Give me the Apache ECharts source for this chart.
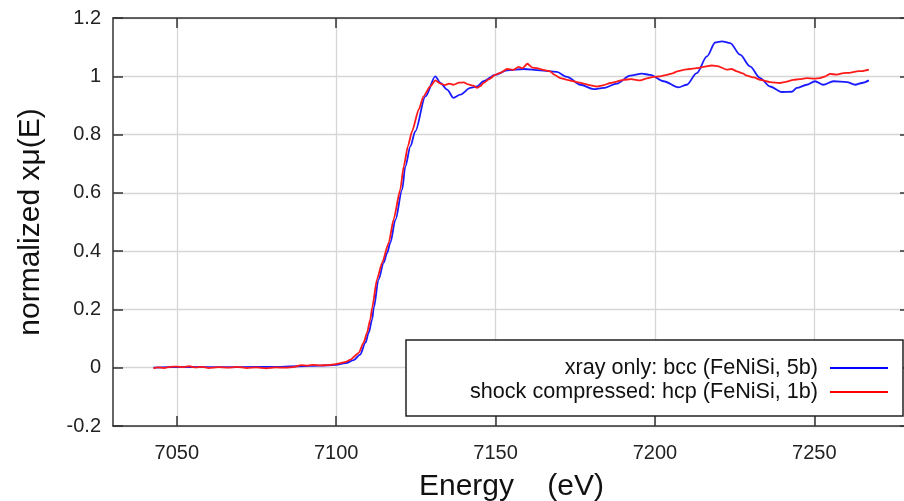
<!DOCTYPE html>
<html>
<head>
<meta charset="utf-8">
<script src="https://cdn.jsdelivr.net/npm/echarts@6/dist/echarts.min.js"></script>
<style>
html,body{margin:0;padding:0;background:#fff;}
#chart{width:904px;height:501px;}
</style>
</head>
<body>
<div id="chart"></div>
<script>
// ---- data ----
const seriesNames = ['xray only: bcc (FeNiSi, 5b)', 'shock compressed: hcp (FeNiSi, 1b)'];
const xTicks = [7050, 7100, 7150, 7200, 7250];
const yTicks = [-0.2, 0, 0.2, 0.4, 0.6, 0.8, 1, 1.2];

const bccEnergy = [7042.7, 7050, 7060, 7070, 7080, 7088, 7095, 7100, 7103, 7105.5, 7107.5,
  7109.2, 7110.2, 7111.3, 7111.8, 7113.3, 7114.9, 7116, 7117, 7118.6, 7120.7, 7121.7, 7123.3,
  7124.8, 7128, 7131.1, 7132.7, 7134.8, 7136.8, 7138.9, 7142.1, 7144.2, 7146.2, 7149.9, 7153.6,
  7158.8, 7164, 7169.2, 7172.4, 7176.6, 7180.7, 7183.9, 7188.1, 7192.2, 7195.9, 7198.5, 7202.7,
  7207.4, 7210, 7213.1, 7216.3, 7218.9, 7221, 7223.6, 7226.7, 7229.8, 7233, 7236.1, 7239.8,
  7242.9, 7244.5, 7247.6, 7250.2, 7252.8, 7256, 7260.2, 7262.8, 7264.9, 7267.1];
const bccMu = [0.000, 0.003, 0.002, 0.002, 0.003, 0.005, 0.007, 0.010, 0.016, 0.026, 0.045,
  0.086, 0.120, 0.166, 0.206, 0.303, 0.360, 0.394, 0.429, 0.508, 0.611, 0.691, 0.760,
  0.811, 0.931, 1.000, 0.977, 0.954, 0.926, 0.937, 0.960, 0.965, 0.983, 1.005, 1.020,
  1.025, 1.020, 1.015, 0.998, 0.971, 0.956, 0.960, 0.975, 1.002, 1.009, 1.005, 0.983,
  0.962, 0.971, 1.011, 1.068, 1.116, 1.120, 1.114, 1.074, 1.034, 0.994, 0.965, 0.946,
  0.947, 0.960, 0.971, 0.983, 0.971, 0.983, 0.980, 0.971, 0.977, 0.986];

const hcpEnergy = [7042.7, 7044, 7046, 7048, 7050, 7052, 7054, 7056, 7058, 7060, 7063, 7066,
  7069, 7072, 7075, 7078, 7081, 7084, 7087, 7089, 7091, 7093, 7095, 7097, 7099.2, 7101, 7103,
  7104.5, 7107.1, 7108.6, 7109.7, 7110.7, 7111.3, 7112.8, 7114.4, 7116.5, 7118, 7120.1, 7121.2,
  7122.5, 7123.8, 7125.9, 7127.4, 7129.5, 7131.1, 7132.7, 7134, 7135.5, 7136.8, 7138.5, 7140,
  7141.5, 7143, 7144.2, 7145.2, 7146.2, 7148, 7149.9, 7151.5, 7153.6, 7155.5, 7157.2, 7158.5,
  7160, 7161.5, 7163, 7165, 7167.1, 7168.5, 7170.3, 7172.5, 7174.5, 7176, 7177.6, 7179.5,
  7181.8, 7184, 7186, 7188, 7190.1, 7192.5, 7195.4, 7197.5, 7199.5, 7201.6, 7203.7, 7205.5,
  7207, 7209, 7211, 7213, 7215.2, 7217.8, 7219.9, 7222.5, 7224, 7225.7, 7227.5, 7228.8, 7231,
  7233, 7236.1, 7239.2, 7241, 7243.4, 7245.5, 7247.6, 7250, 7251.8, 7253.5, 7254.9, 7257,
  7259.1, 7261, 7263.3, 7265, 7267.1];
const hcpMu = [-0.002, 0.001, -0.001, 0.003, 0.004, 0.002, 0.005, 0.001, 0.003, -0.001, 0.002, 0.000,
  0.003, -0.001, 0.001, -0.002, 0.001, 0.000, 0.003, 0.009, 0.007, 0.010, 0.008, 0.009, 0.011, 0.015, 0.020,
  0.028, 0.051, 0.086, 0.120, 0.166, 0.206, 0.303, 0.360, 0.429, 0.508, 0.611, 0.691,
  0.760, 0.811, 0.886, 0.931, 0.965, 0.986, 0.975, 0.970, 0.975, 0.971, 0.978, 0.979,
  0.972, 0.968, 0.960, 0.966, 0.977, 0.990, 1.005, 1.012, 1.025, 1.022, 1.032, 1.028,
  1.043, 1.030, 1.028, 1.022, 1.017, 1.005, 0.994, 0.988, 0.983, 0.979, 0.975, 0.970,
  0.965, 0.970, 0.977, 0.982, 0.988, 0.990, 0.986, 0.993, 0.998, 1.000, 1.005, 1.010,
  1.017, 1.022, 1.025, 1.028, 1.032, 1.037, 1.034, 1.023, 1.025, 1.017, 1.010, 1.002, 0.996,
  0.988, 0.980, 0.977, 0.981, 0.988, 0.990, 0.994, 0.992, 0.994, 1.000, 1.008, 1.006,
  1.011, 1.012, 1.017, 1.018, 1.023];

// ---- chart ----
const FONT = "'Liberation Sans', Arial, sans-serif";
const zip = (xs, ys) => xs.map((x, i) => [x, ys[i]]);
const chart = echarts.init(document.getElementById('chart'), null, {renderer: 'canvas'});

const tickStyle = {show: true, inside: true, length: 10, lineStyle: {color: '#333', width: 1.5}};
const lineStyle = {show: true, onZero: false, lineStyle: {color: '#333', width: 1.5}};

chart.setOption({
  animation: false,
  backgroundColor: '#fff',
  textStyle: {fontFamily: FONT},
  grid: {left: 113, top: 18, width: 797, height: 408, containLabel: false, outerBoundsMode: 'none'},
  xAxis: [{
    type: 'value', min: 7030, max: 7280, position: 'bottom',
    name: 'Energy    (eV)', nameLocation: 'middle', nameGap: 46,
    nameTextStyle: {fontSize: 30, color: '#111', fontFamily: FONT},
    axisLine: lineStyle,
    axisTick: Object.assign({customValues: xTicks}, tickStyle),
    axisLabel: {customValues: xTicks, fontSize: 20, color: '#222', margin: 17, fontFamily: FONT,
      formatter: v => String(v)},
    splitLine: {show: true, lineStyle: {color: '#d6d6d6', width: 1.3}}
  }, {
    type: 'value', min: 7030, max: 7280, position: 'top',
    axisLine: lineStyle,
    axisTick: Object.assign({customValues: xTicks}, tickStyle),
    axisLabel: {show: false},
    splitLine: {show: false}
  }],
  yAxis: [{
    type: 'value', min: -0.2, max: 1.2, interval: 0.2, position: 'left',
    name: 'normalized xμ(E)', nameLocation: 'middle', nameGap: 67,
    nameTextStyle: {fontSize: 30, color: '#111', fontFamily: FONT},
    axisLine: lineStyle,
    axisTick: tickStyle,
    axisLabel: {fontSize: 20, color: '#222', margin: 12, fontFamily: FONT},
    splitLine: {show: true, lineStyle: {color: '#d6d6d6', width: 1.3}}
  }, {
    type: 'value', min: -0.2, max: 1.2, interval: 0.2, position: 'right',
    axisLine: lineStyle,
    axisTick: tickStyle,
    axisLabel: {show: false},
    splitLine: {show: false}
  }],
  legend: [0, 1].map(i => ({
    data: [seriesNames[i]],
    right: 16, top: 357 + i * 24,
    orient: 'vertical', align: 'right',
    icon: 'rect', itemWidth: 58, itemHeight: 2,
    padding: 0, z: 10,
    textStyle: {fontSize: 21.6, color: '#111', fontFamily: FONT, padding: [0, 7, 0, 0]}
  })),
  graphic: [{
    type: 'rect', z: 5,
    shape: {x: 406, y: 340, width: 497, height: 76},
    style: {fill: '#fff', stroke: '#222', lineWidth: 1.5}
  }],
  series: [{
    name: seriesNames[0], type: 'line', data: zip(bccEnergy, bccMu),
    showSymbol: false, smooth: 0.3, smoothMonotone: 'x', color: '#0000ff',
    lineStyle: {color: '#1a1aff', width: 1.8}, z: 2
  }, {
    name: seriesNames[1], type: 'line', data: zip(hcpEnergy, hcpMu),
    showSymbol: false, smooth: 0.2, smoothMonotone: 'x', color: '#ff0000',
    lineStyle: {color: '#ff1a1a', width: 1.8}, z: 3
  }]
});
</script>
</body>
</html>
